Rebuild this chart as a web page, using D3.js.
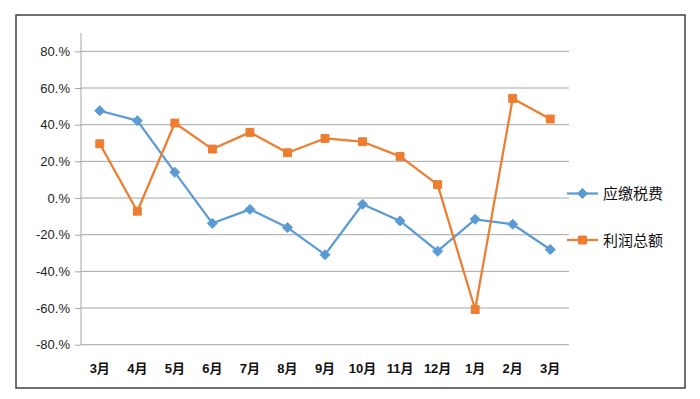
<!DOCTYPE html>
<html>
<head>
<meta charset="utf-8">
<script src="https://cdn.jsdelivr.net/npm/d3@7"></script>
<style>
  body { margin: 0; background: #fff; }
  svg text { font-family: "Liberation Sans", "Noto Sans CJK SC", sans-serif; }
</style>
</head>
<body>
<div id="chart"></div>
<script>
// ---- data ----
const months = ["3月", "4月", "5月", "6月", "7月", "8月", "9月", "10月", "11月", "12月", "1月", "2月", "3月"];
const taxValues = [0.476, 0.422, 0.140, -0.138, -0.062, -0.161, -0.309, -0.034, -0.125, -0.290, -0.116, -0.143, -0.281];
const profitValues = [0.296, -0.072, 0.409, 0.267, 0.358, 0.247, 0.325, 0.307, 0.227, 0.073, -0.608, 0.543, 0.431];
const yTicks = [-0.8, -0.6, -0.4, -0.2, 0, 0.2, 0.4, 0.6, 0.8];
const seriesNames = ["应缴税费", "利润总额"];

const width = 700, height = 399;
const plot = { left: 81, right: 569, top: 33, bottom: 344.7 };

const svg = d3.select("#chart").append("svg")
  .attr("width", width)
  .attr("height", height);

// outer frame
svg.append("rect")
  .attr("x", 16).attr("y", 15)
  .attr("width", 669).attr("height", 373)
  .attr("fill", "#fff")
  .attr("stroke", "#404040")
  .attr("stroke-width", 1.5);

// scales
const x = d3.scaleBand().domain(d3.range(months.length)).range([plot.left, plot.right]);
const y = d3.scaleLinear().domain([-0.8, 0.9]).range([plot.bottom, plot.top]);
const cx = i => x(i) + x.bandwidth() / 2;

// gridlines
svg.append("g").selectAll("line")
  .data(yTicks)
  .enter().append("line")
  .attr("x1", plot.left).attr("x2", plot.right)
  .attr("y1", d => y(d)).attr("y2", d => y(d))
  .attr("stroke", "#a6a6a6")
  .attr("stroke-width", 1);

// y axis
const yAxis = d3.axisLeft(y)
  .tickValues(yTicks)
  .tickSize(6)
  .tickFormat(d => Math.round(d * 100) + ".%");
const gy = svg.append("g")
  .attr("transform", `translate(${plot.left},0)`)
  .call(yAxis);
gy.select(".domain").remove();
gy.selectAll(".tick line").attr("stroke", "#a6a6a6");
gy.selectAll(".tick text")
  .attr("x", -11)
  .attr("fill", "#222")
  .style("font-size", "13px");
svg.append("line")
  .attr("x1", plot.left).attr("x2", plot.left)
  .attr("y1", plot.top).attr("y2", plot.bottom)
  .attr("stroke", "#a6a6a6");

// x labels
svg.append("g").selectAll("text")
  .data(months)
  .enter().append("text")
  .attr("x", (d, i) => cx(i))
  .attr("y", 373)
  .attr("text-anchor", "middle")
  .style("font-size", "13px")
  .style("font-weight", "bold")
  .attr("fill", "#111")
  .text(d => d);

// lines
const line = d3.line().x((d, i) => cx(i)).y(d => y(d));
const colors = ["#5b9bd5", "#ed7d31"];
const allSeries = [taxValues, profitValues];

allSeries.forEach((vals, k) => {
  svg.append("path")
    .attr("d", line(vals))
    .attr("fill", "none")
    .attr("stroke", colors[k])
    .attr("stroke-width", 2.25)
    .attr("stroke-linejoin", "round");
});

const diamond = d3.symbol().type(d3.symbolDiamond2).size(64);
const square = d3.symbol().type(d3.symbolSquare2).size(80);

svg.append("g").selectAll("path")
  .data(taxValues)
  .enter().append("path")
  .attr("transform", (d, i) => `translate(${cx(i)},${y(d)})`)
  .attr("d", diamond)
  .attr("fill", colors[0])
  .attr("stroke", colors[0]);

svg.append("g").selectAll("path")
  .data(profitValues)
  .enter().append("path")
  .attr("transform", (d, i) => `translate(${cx(i)},${y(d)})`)
  .attr("d", square)
  .attr("fill", colors[1])
  .attr("stroke", colors[1]);

// legend
const legend = svg.append("g");
seriesNames.forEach((name, k) => {
  const ly = 193.5 + k * 46.5;
  legend.append("line")
    .attr("x1", 567).attr("x2", 598)
    .attr("y1", ly).attr("y2", ly)
    .attr("stroke", colors[k])
    .attr("stroke-width", 2.25);
  legend.append("path")
    .attr("transform", `translate(582.5,${ly})`)
    .attr("d", k === 0 ? diamond : square)
    .attr("fill", colors[k])
    .attr("stroke", colors[k]);
  legend.append("text")
    .attr("x", 603).attr("y", ly + 5.5)
    .style("font-size", "15px")
    .style("font-family", "'Noto Sans CJK SC', sans-serif")
    .attr("fill", "#111")
    .text(name);
});
</script>
</body>
</html>
